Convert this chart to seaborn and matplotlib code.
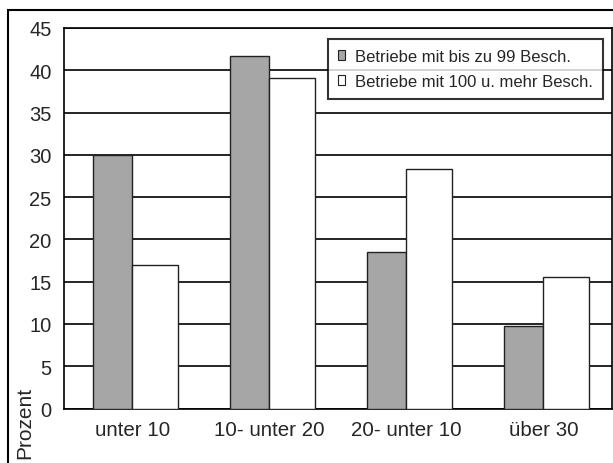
import matplotlib
matplotlib.use("Agg")
import matplotlib.pyplot as plt
from matplotlib.patches import Rectangle
import pandas as pd
import seaborn as sns

# Werte
kategorien = ["unter 10", "10- unter 20", "20- unter 10", "über 30"]
gruppen = ["Betriebe mit bis zu 99 Besch.", "Betriebe mit 100 u. mehr Besch."]
klein = [30.0, 41.7, 18.5, 9.8]
gross = [17.0, 39.1, 28.3, 15.6]
y_ticks = list(range(0, 50, 5))

farben = ["#a6a6a6", "#ffffff"]

df = pd.DataFrame({
    "kategorie": kategorien * 2,
    "gruppe": [gruppen[0]] * 4 + [gruppen[1]] * 4,
    "prozent": klein + gross,
})

sns.set_style("white")
plt.rcParams["font.family"] = ["Liberation Sans", "DejaVu Sans"]

fig = plt.figure(figsize=(6.13, 4.64), dpi=100)
ax = fig.add_axes([64 / 613, 1 - 409.5 / 464, 548 / 613, 380.5 / 464])

sns.barplot(data=df, x="kategorie", y="prozent", hue="gruppe",
            palette=farben, edgecolor="#222222", linewidth=1.0,
            width=0.62, ax=ax, zorder=3, legend=False)

# Balken wie im Original: grau schmaler, weiss breiter, direkt nebeneinander
bars = [p for p in ax.patches if isinstance(p, Rectangle)]
for i, p in enumerate(bars[:8]):
    cx = i % 4
    if i < 4:
        p.set_x(cx - 0.288)
        p.set_width(0.286)
    else:
        p.set_x(cx - 0.002)
        p.set_width(0.336)

ax.set_xlim(-0.5, 3.5)
ax.set_ylim(0, 45)
ax.set_yticks(y_ticks)
ax.yaxis.grid(True, color="black", linewidth=1.2, zorder=0)
ax.set_axisbelow(True)
ax.set_xlabel("")
ax.set_ylabel("")

ax.set_xticks(range(4))
ax.set_xticklabels(kategorien)
ax.set_xticks([0.5, 1.5, 2.5, 3.5], minor=True)
ax.tick_params(axis="x", which="major", length=0, pad=8, labelsize=14.8)
ax.tick_params(axis="x", which="minor", length=4, width=1, color="black", direction="out")
ax.tick_params(axis="y", length=4, width=1, color="black", direction="out", pad=5, labelsize=14.5)

for s in ax.spines.values():
    s.set_color("black")
    s.set_linewidth(1.2)

handles = [Rectangle((0, 0), 1, 1, facecolor=farben[0], edgecolor="#222222", linewidth=0.8),
           Rectangle((0, 0), 1, 1, facecolor=farben[1], edgecolor="#222222", linewidth=0.8)]
leg = ax.legend(handles, gruppen, loc="upper right",
                bbox_to_anchor=((603 - 64) / 548, (409.5 - 40) / 380.5),
                frameon=True, fancybox=False, edgecolor="black", fontsize=12,
                handlelength=0.4, handleheight=0.55, handletextpad=0.6,
                borderpad=0.6, labelspacing=0.6, borderaxespad=0)
leg.get_frame().set_linewidth(1.5)

fig.text(25 / 613, 1 - 387 / 464, "Prozent", rotation=90, ha="center", va="top", fontsize=15)

# äusserer Rahmen
fig.patches.append(Rectangle((7.5 / 613, -0.1), 1.2, 1 - 10.5 / 464 + 0.1,
                             transform=fig.transFigure, fill=False,
                             edgecolor="black", linewidth=1.5))

fig.savefig("out.png", dpi=100)
